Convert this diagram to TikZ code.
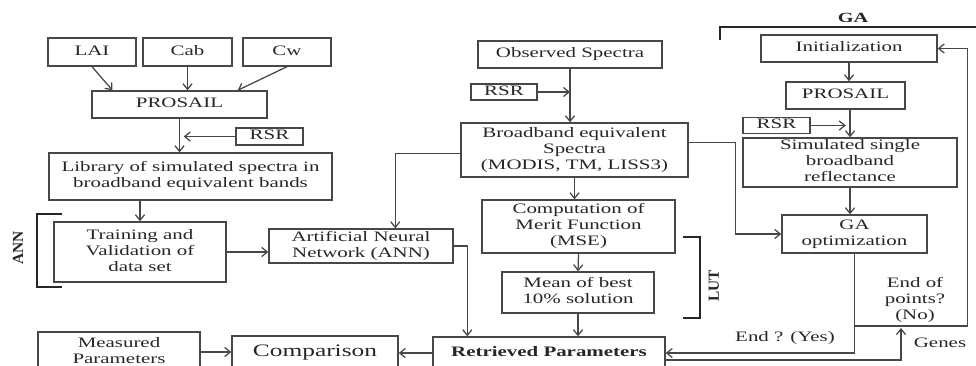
\documentclass[tikz,border=0pt]{standalone}
\usepackage{fontspec}
\setmainfont{Liberation Serif}[FakeStretch=1.45]
\newfontfamily\uprightserif{Liberation Serif}
\usetikzlibrary{positioning,calc,arrows.meta}

\begin{document}
\begin{tikzpicture}[x=0.714pt, y=-0.714pt]
  \definecolor{ink}{HTML}{262626}
  \definecolor{frame}{HTML}{474747}
  \newcommand{\pxu}[0]{0.714pt}
  \newcommand{\boxtext}[1]{\fontsize{10.3}{11.4}\selectfont\begin{tabular}{@{}c@{}}#1\end{tabular}}
  \tikzstyle{block}     = [rectangle, draw=frame, line width=1pt, text=ink, inner sep=0pt]
  \tikzstyle{connector} = [draw=frame, line width=0.9pt, -{Straight Barb[length=4pt,width=6.5pt]}]
  \tikzstyle{bracket}   = [draw=black!85, line width=1.4pt]
  \tikzstyle{tag}       = [text=ink, inner sep=0pt]
  \useasboundingbox (0,0) rectangle (976,365);
  \clip (0,0) rectangle (976,365);
  % ANN branch
  \node [block, minimum width=88*\pxu,  minimum height=28*\pxu] (lai)       at (92,52)      {\boxtext{LAI}};
  \node [block, minimum width=89*\pxu,  minimum height=28*\pxu] (cab)       at (187.5,52)   {\boxtext{Cab}};
  \node [block, minimum width=88*\pxu,  minimum height=28*\pxu] (cw)        at (287,52)     {\boxtext{Cw}};
  \node [block, minimum width=175*\pxu, minimum height=27*\pxu] (prosaila)  at (179.5,104.5){\boxtext{PROSAIL}};
  \node [block, minimum width=67*\pxu,  minimum height=17*\pxu] (rsra)      at (269.5,136.5){\boxtext{RSR}};
  \node [block, minimum width=283*\pxu, minimum height=47*\pxu] (library)   at (190.5,176.5){\boxtext{Library of simulated spectra in\\broadband equivalent bands}};
  \node [block, minimum width=172*\pxu, minimum height=60*\pxu] (training)  at (140,252)    {\boxtext{Training and\\Validation of\\data set}};
  \node [block, minimum width=184*\pxu, minimum height=34*\pxu] (annnet)    at (361,246)    {\boxtext{Artificial Neural\\Network (ANN)}};
  \node [block, minimum width=162*\pxu, minimum height=40*\pxu] (measured)  at (119,352)    {\boxtext{Measured\\Parameters}};
  \node [block, minimum width=166*\pxu, minimum height=34*\pxu] (comparison) at (315,353)   {\fontsize{12.5}{14}\selectfont Comparison};
  \node [block, minimum width=232*\pxu, minimum height=32*\pxu] (retrieved) at (549,353)    {\boxtext{\bfseries Retrieved Parameters}};
  % LUT branch
  \node [block, minimum width=184*\pxu, minimum height=27*\pxu] (observed)  at (570,54.5)   {\boxtext{Observed Spectra}};
  \node [block, minimum width=66*\pxu,  minimum height=16*\pxu] (rsrb)      at (504,92)     {\boxtext{RSR}};
  \node [block, minimum width=227*\pxu, minimum height=54*\pxu] (broadband) at (574.5,150)  {\boxtext{Broadband equivalent\\Spectra\\(MODIS, TM, LISS3)}};
  \node [block, minimum width=193*\pxu, minimum height=53*\pxu] (merit)     at (578.5,226.5){\boxtext{Computation of\\Merit Function\\(MSE)}};
  \node [block, minimum width=152*\pxu, minimum height=41*\pxu] (mean)      at (578,292.5)  {\boxtext{Mean of best\\10\% solution}};
  % GA branch
  \node [block, minimum width=176*\pxu, minimum height=27*\pxu] (init)      at (849,48.5)   {\boxtext{Initialization}};
  \node [block, minimum width=119*\pxu, minimum height=27*\pxu] (prosailb)  at (845.5,95.5) {\boxtext{PROSAIL}};
  \node [block, minimum width=67*\pxu,  minimum height=15*\pxu] (rsrc)      at (776.5,125.5){\boxtext{RSR}};
  \node [block, minimum width=214*\pxu, minimum height=49*\pxu] (simulated) at (850,162.5)  {\boxtext{Simulated single\\broadband\\reflectance}};
  \node [block, minimum width=145*\pxu, minimum height=38*\pxu] (gaopt)     at (854.5,234)  {\boxtext{GA\\optimization}};
  % labels
  \node [tag] (endno)  at (915,300) {\boxtext{End of\\points?\\(No)}};
  \node [tag] (endyes) at (785,338) {\boxtext{End ? (Yes)}};
  \node [tag] (genes)  at (940,344) {\boxtext{Genes}};
  \node [tag] (gatag)  at (853,18)  {\fontsize{10}{12}\selectfont\bfseries GA};
  \node [tag, rotate=90] (anntag) at (18,248)  {\uprightserif\fontsize{11}{13}\selectfont\bfseries ANN};
  \node [tag, rotate=90] (luttag) at (714,286) {\uprightserif\fontsize{11}{13}\selectfont\bfseries LUT};
  \coordinate (nojoin)    at (gaopt.south |- 0,326);
  \coordinate (genestip)  at (901,328);
  % connectors
  \draw [connector] (lai.south) -- ($(prosaila.north west)!0.12!(prosaila.north east)$);
  \draw [connector] (cab.south) -- (cab.south |- prosaila.north);
  \draw [connector] (cw.south)  -- ($(prosaila.north west)!0.83!(prosaila.north east)$);
  \draw [connector] (prosaila.south) -- (prosaila.south |- library.north);
  \draw [connector, shorten >=3pt] (rsra.west) -- (rsra.west -| prosaila.south);
  \draw [connector] (library.south -| training.north) -- (training.north);
  \draw [connector] (training.east) -- (training.east -| annnet.west);
  \draw [connector] (annnet.east) -| ($(retrieved.north west)!0.15!(retrieved.north east)$);
  \draw [connector] (retrieved.west) -- (comparison.east);
  \draw [connector] (measured.east) -- (measured.east -| comparison.west);
  \draw [connector] (observed.south) -- (observed.south |- broadband.north);
  \draw [connector] (rsrb.east) -- (rsrb.east -| observed.south);
  \draw [connector] ($(broadband.north west)!0.56!(broadband.south west)$) -| ($(annnet.north west)!0.685!(annnet.north east)$);
  \draw [connector] ($(broadband.north east)!0.37!(broadband.south east)$) -- ++(47,0) |- (gaopt.west);
  \draw [connector] (broadband.south) -- (broadband.south |- merit.north);
  \draw [connector] (merit.south) -- (mean.north);
  \draw [connector] (mean.south) -- (mean.south |- retrieved.north);
  \draw [connector] (init.south) -- (init.south |- prosailb.north);
  \draw [connector] (simulated.north |- prosailb.south) -- (simulated.north);
  \draw [connector, shorten >=3pt] (rsrc.east) -- (rsrc.east -| simulated.north);
  \draw [connector] (simulated.south) -- (simulated.south |- gaopt.north);
  \draw [connector] (gaopt.south) |- (retrieved.east);
  \draw [connector] (nojoin) -- ++(113,0) |- (init.east);
  \draw [connector] ([yshift=-5pt]retrieved.east) -| (genestip);
  % brackets
  \draw [bracket] (62,214) -| (37,287) -- (62,287);
  \draw [bracket] (683,237) -| (700,318) -- (683,318);
  \draw [bracket] (720,40) |- (976,27);
\end{tikzpicture}
\end{document}
